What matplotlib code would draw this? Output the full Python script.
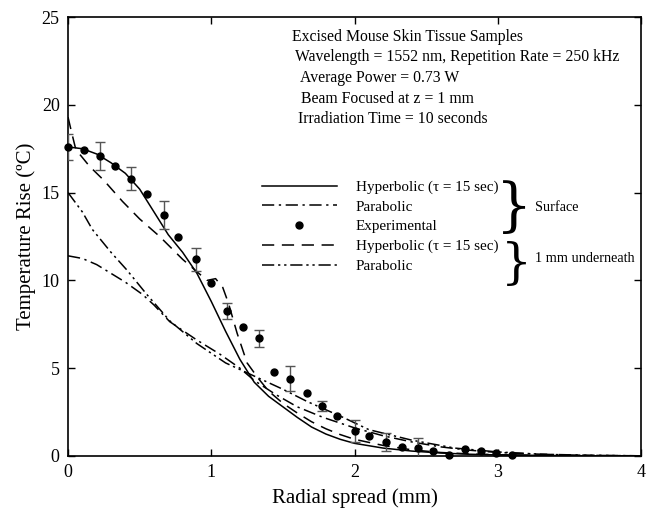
import matplotlib
matplotlib.use("Agg")
import matplotlib.pyplot as plt

plt.rcParams['font.family'] = ['Liberation Serif', 'DejaVu Serif']

# Experimental data (surface)
exp_x = [0.0, 0.11, 0.22, 0.33, 0.44, 0.55, 0.67, 0.77, 0.89, 1.0, 1.11, 1.22, 1.33, 1.44,
         1.55, 1.67, 1.77, 1.88, 2.0, 2.1, 2.22, 2.33, 2.44, 2.55, 2.66, 2.77, 2.88, 2.99, 3.1]
exp_y = [17.6, 17.4, 17.1, 16.5, 15.8, 14.9, 13.7, 12.5, 11.2, 9.85, 8.26, 7.35, 6.7, 4.8,
         4.4, 3.6, 2.85, 2.28, 1.42, 1.14, 0.8, 0.51, 0.45, 0.28, 0.06, 0.4, 0.28, 0.17, 0.06]
exp_err = [0.75, 0, 0.8, 0, 0.65, 0, 0.8, 0, 0.65, 0, 0.43, 0, 0.5, 0,
           0.7, 0, 0.3, 0, 0.63, 0, 0.53, 0, 0.57, 0, 0, 0, 0, 0, 0]

# Surface, hyperbolic (solid)
hs_x = [0, 0.1, 0.2, 0.3, 0.4, 0.5, 0.6, 0.7, 0.8, 0.9, 1.0, 1.1, 1.2, 1.3, 1.4, 1.5, 1.6,
        1.7, 1.8, 1.9, 2.0, 2.2, 2.4, 2.6, 2.8, 3.0, 3.5, 4.0]
hs_y = [17.6, 17.5, 17.2, 16.7, 16.1, 15.2, 13.9, 12.6, 11.6, 10.4, 8.8, 7.1, 5.5, 4.2, 3.4,
        2.8, 2.2, 1.65, 1.25, 0.95, 0.72, 0.45, 0.28, 0.17, 0.1, 0.06, 0.015, 0.0]

# Surface, parabolic (dash-dot)
ps_x = [0, 0.1, 0.2, 0.3, 0.4, 0.52, 0.6, 0.71, 0.9, 1.06, 1.2, 1.3, 1.45, 1.6, 1.78, 2.0,
        2.2, 2.4, 2.6, 2.8, 3.0, 3.3, 3.6, 4.0]
ps_y = [11.4, 11.25, 10.9, 10.4, 9.9, 9.2, 8.6, 7.65, 6.6, 5.8, 5.0, 4.3, 3.5, 2.8, 2.2, 1.6,
        1.15, 0.8, 0.52, 0.33, 0.2, 0.1, 0.05, 0.01]

# 1 mm underneath, hyperbolic (dashed)
hu_x = [0, 0.02, 0.05, 0.08, 0.15, 0.25, 0.38, 0.5, 0.64, 0.8, 0.97, 1.03, 1.08, 1.12, 1.18,
        1.25, 1.33, 1.4, 1.5, 1.6, 1.7, 1.8, 1.9, 2.0, 2.2, 2.4, 2.6, 2.8, 3.0, 3.5, 4.0]
hu_y = [19.3, 18.6, 17.6, 17.2, 16.5, 15.7, 14.5, 13.5, 12.5, 11.2, 10.0, 10.1, 9.6, 8.7, 7.0,
        5.3, 4.4, 3.7, 3.0, 2.45, 1.95, 1.55, 1.22, 0.95, 0.6, 0.35, 0.2, 0.12, 0.07, 0.02, 0.0]

# 1 mm underneath, parabolic (dash-dot-dot)
pu_x = [0, 0.1, 0.17, 0.3, 0.41, 0.55, 0.71, 0.9, 1.1, 1.34, 1.5, 1.67, 1.92, 2.1, 2.4, 2.7,
        3.0, 3.3, 3.6, 4.0]
pu_y = [15.0, 13.9, 12.9, 11.6, 10.6, 9.2, 7.7, 6.4, 5.3, 4.4, 3.8, 3.1, 2.2, 1.5, 0.9, 0.45,
        0.23, 0.1, 0.04, 0.01]

fig = plt.figure(figsize=(6.56, 5.16), dpi=100)
ax = fig.add_axes([0.1037, 0.1163, 0.8735, 0.8507])

lw = 1.1
l_hs, = ax.plot(hs_x, hs_y, color='black', lw=lw, linestyle='-')
l_ps, = ax.plot(ps_x, ps_y, color='black', lw=lw, linestyle=(0, (8, 3, 1.5, 3)))
l_hu, = ax.plot(hu_x, hu_y, color='black', lw=lw, linestyle=(0, (8, 5)))
l_pu, = ax.plot(pu_x, pu_y, color='black', lw=lw, linestyle=(0, (8, 2.5, 1.5, 2.5, 1.5, 2.5)))

ax.errorbar([x for x, e in zip(exp_x, exp_err) if e > 0],
            [y for y, e in zip(exp_y, exp_err) if e > 0],
            yerr=[e for e in exp_err if e > 0], fmt='none', ecolor='#555555',
            elinewidth=1.0, capsize=3.6, capthick=1.0, zorder=3)
l_exp, = ax.plot(exp_x, exp_y, 'o', color='black', markersize=5, zorder=4, clip_on=False)

ax.set_xlim(0, 4)
ax.set_ylim(0, 25)
ax.set_xticks([0, 1, 2, 3, 4])
ax.set_yticks([0, 5, 10, 15, 20, 25])
ax.tick_params(direction='in', top=True, right=True, length=5, width=1, labelsize=13, pad=6)
for s in ax.spines.values():
    s.set_linewidth(1.2)

ax.set_xlabel('Radial spread (mm)', fontsize=15, labelpad=5)
ax.set_ylabel('Temperature Rise (ºC)', fontsize=15, labelpad=4)

fs = 11.3
info = ['Excised Mouse Skin Tissue Samples',
        'Wavelength = 1552 nm, Repetition Rate = 250 kHz',
        'Average Power = 0.73 W',
        'Beam Focused at z = 1 mm',
        'Irradiation Time = 10 seconds']
info_x = [0.390, 0.396, 0.404, 0.406, 0.401]
info_y = [0.9551, 0.9082, 0.8604, 0.8132, 0.7677]
for t, tx, ty in zip(info, info_x, info_y):
    ax.text(tx, ty, t, transform=ax.transAxes, fontsize=fs, va='center', ha='left')

lfs = 10.9
handles = [l_hs, l_ps, l_exp, l_hu, l_pu]
labels = ['Hyperbolic (τ = 15 sec)', 'Parabolic', 'Experimental',
          'Hyperbolic (τ = 15 sec)', 'Parabolic']
ax.legend(handles, labels, loc='upper left', bbox_to_anchor=(0.338, 0.628), frameon=False,
          fontsize=lfs, handlelength=4.95, handletextpad=1.25, labelspacing=0.40,
          borderpad=0, borderaxespad=0)

ax.text(0.8098, 0.5626, '}', transform=ax.transAxes, fontsize=41, va='center', ha='right',
        family='DejaVu Serif')
ax.text(0.8150, 0.566, 'Surface', transform=ax.transAxes, fontsize=10.3, va='center')
ax.text(0.8098, 0.437, '}', transform=ax.transAxes, fontsize=35, va='center', ha='right',
        family='DejaVu Serif')
ax.text(0.8150, 0.449, '1 mm underneath', transform=ax.transAxes, fontsize=10.3, va='center')

fig.savefig('out.png', dpi=100)
